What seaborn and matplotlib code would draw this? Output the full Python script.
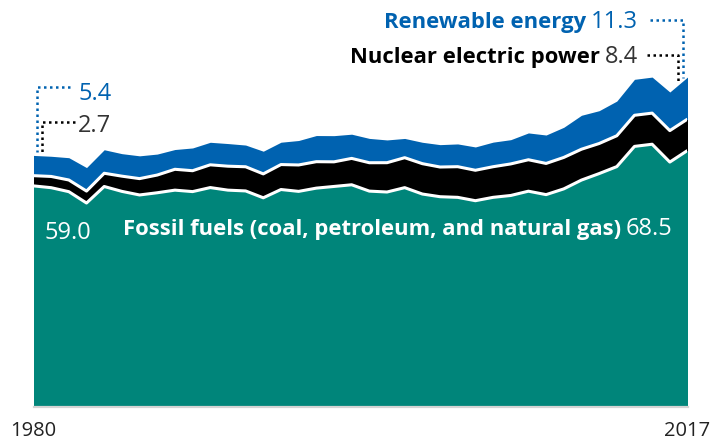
import numpy as np
import pandas as pd
import matplotlib
matplotlib.use("Agg")
import matplotlib.pyplot as plt
import seaborn as sns
from matplotlib.lines import Line2D

# ---- data (quadrillion Btu) ----
years = list(range(1980, 2018))
fossil = [59.01, 58.53, 57.46, 54.42, 58.85, 57.54, 56.58, 57.17, 57.87, 57.48,
          58.56, 57.87, 57.66, 55.82, 58.04, 57.54, 58.41, 58.86, 59.31, 57.61,
          57.37, 58.54, 56.83, 56.11, 55.94, 55.04, 55.94, 56.44, 57.59, 56.67,
          58.21, 60.57, 62.31, 64.18, 69.60, 70.18, 65.40, 68.50]
nuclear = [2.74, 3.01, 3.13, 3.20, 3.55, 4.08, 4.38, 4.75, 5.59, 5.60,
           6.10, 6.42, 6.48, 6.41, 6.69, 7.08, 7.09, 6.60, 7.07, 7.61,
           7.86, 8.03, 8.14, 7.96, 8.22, 8.16, 8.21, 8.46, 8.43, 8.36,
           8.43, 8.27, 8.06, 8.27, 8.34, 8.34, 8.43, 8.42]
renewable = [5.43, 5.41, 5.98, 6.30, 6.30, 6.03, 6.11, 5.62, 5.30, 6.10,
             6.04, 6.07, 5.82, 6.08, 5.99, 6.56, 7.01, 7.02, 6.49, 6.52,
             6.10, 5.16, 5.73, 6.00, 6.10, 6.25, 6.59, 6.50, 7.19, 7.62,
             8.08, 9.10, 8.80, 9.30, 9.64, 9.66, 10.35, 11.26]
tick_years = [1980, 2017]
labels = {"fossil": "Fossil fuels (coal, petroleum, and natural gas)",
          "nuclear": "Nuclear electric power",
          "renewable": "Renewable energy"}

TEAL = "#00857a"
BLACK = "#000000"
BLUE = "#0062b0"
GREY_TXT = "#333333"

sns.set_theme(style="white")
FONT = ["Open Sans", "DejaVu Sans"]
plt.rcParams["font.family"] = FONT

W, H = 714, 443
fig = plt.figure(figsize=(W / 100, H / 100), dpi=100)
fig.patch.set_facecolor("white")
PX_PER_UNIT = 3.73
ax = fig.add_axes([33.5 / W, (H - 406) / H, 654 / W, 406 / H])
ax.set_facecolor("white")

f = np.array(fossil)
n = np.array(nuclear)
r = np.array(renewable)
ax.stackplot(years, f, n, r, colors=[TEAL, BLACK, BLUE], linewidth=0, zorder=1)

edges = pd.DataFrame({
    "year": years * 2,
    "value": np.concatenate([f, f + n]),
    "edge": ["fossil"] * len(years) + ["nuclear"] * len(years),
})
sns.lineplot(data=edges, x="year", y="value", hue="edge",
             palette={"fossil": "white", "nuclear": "white"},
             estimator=None, legend=False, ax=ax, linewidth=2.2,
             solid_capstyle="butt", zorder=3)

ax.set_xlim(years[0], years[-1])
ax.set_ylim(0, 406 / PX_PER_UNIT)
ax.set_xlabel("")
ax.set_ylabel("")
ax.set_yticks([])
ax.set_xticks(tick_years)
ax.set_xticklabels([str(y) for y in tick_years])
ax.tick_params(axis="x", length=0, pad=9.5, labelsize=14.5, labelcolor="#222222")
for s in ["top", "left", "right"]:
    ax.spines[s].set_visible(False)
ax.spines["bottom"].set_color("#d4d4d4")
ax.spines["bottom"].set_linewidth(1.6)
ax.spines["bottom"].set_position(("outward", 1))
ax.grid(False)


def fx(px):
    return px / W


def fy(py):
    return 1 - py / H


fig.canvas.draw()
renderer = fig.canvas.get_renderer()


def width_px(t):
    return t.get_window_extent(renderer=renderer).width


BOLD_SIZE = 15.8
NUM_SIZE = 17


def pair_left(x, y, bold, num, cb, cn, gap=5):
    t1 = fig.text(fx(x), fy(y), bold, ha="left", va="baseline",
                  fontsize=BOLD_SIZE, fontweight="bold", color=cb)
    w = width_px(t1)
    fig.text(fx(x + w + gap), fy(y), num, ha="left", va="baseline",
             fontsize=NUM_SIZE, color=cn)


def pair_right(x, y, bold, num, cb, cn, gap=5):
    t2 = fig.text(fx(x), fy(y), num, ha="right", va="baseline",
                  fontsize=NUM_SIZE, color=cn)
    w = width_px(t2)
    fig.text(fx(x - w - gap), fy(y), bold, ha="right", va="baseline",
             fontsize=BOLD_SIZE, fontweight="bold", color=cb)


pair_left(122.7, 235, labels["fossil"], f"{fossil[-1]:.1f}", "white", "white")
fig.text(fx(45), fy(239), f"{fossil[0]:.1f}", ha="left", va="baseline",
         fontsize=NUM_SIZE, color="white")
pair_right(638, 28.3, labels["renewable"], f"{renewable[-1]:.1f}", BLUE, BLUE)
pair_right(638, 62.7, labels["nuclear"], f"{nuclear[-1]:.1f}", BLACK, GREY_TXT)
fig.text(fx(78), fy(100), f"{renewable[0]:.1f}", ha="left", va="baseline",
         fontsize=NUM_SIZE, color=BLUE)
fig.text(fx(78), fy(132.3), f"{nuclear[0]:.1f}", ha="left", va="baseline",
         fontsize=NUM_SIZE, color=GREY_TXT)

# ---- dotted leader lines ----
total = f + n + r
to_disp = ax.transData


def data_to_px(xd, yd):
    X, Y = to_disp.transform((xd, yd))
    return X, H - Y


def total_at_px(xpix):
    xd = ax.transData.inverted().transform((xpix, 0))[0]
    return data_to_px(xd, np.interp(xd, years, total))[1]


def leader(points, color):
    xs = [fx(p[0]) for p in points]
    ys = [fy(p[1]) for p in points]
    fig.add_artist(Line2D(xs, ys, transform=fig.transFigure, color=color,
                          linewidth=1.8, linestyle=(0, (1, 1.4)),
                          solid_joinstyle="round"))


x0, _ = data_to_px(years[0], 0)
x1, _ = data_to_px(years[-1], 0)
leader([(70, 87.3), (x0 + 3.2, 87.3), (x0 + 3.2, total_at_px(x0 + 3.2) - 4)], BLUE)
leader([(75, 122.3), (x0 + 8.2, 122.3), (x0 + 8.2, total_at_px(x0 + 8.2) - 4)], BLACK)
leader([(650, 20), (x1 - 4.5, 20), (x1 - 4.5, total_at_px(x1 - 4.5) - 3)], BLUE)
leader([(647, 55), (x1 - 9.5, 55), (x1 - 9.5, total_at_px(x1 - 9.5) - 3)], BLACK)

fig.savefig("out.png", dpi=100, facecolor="white")
